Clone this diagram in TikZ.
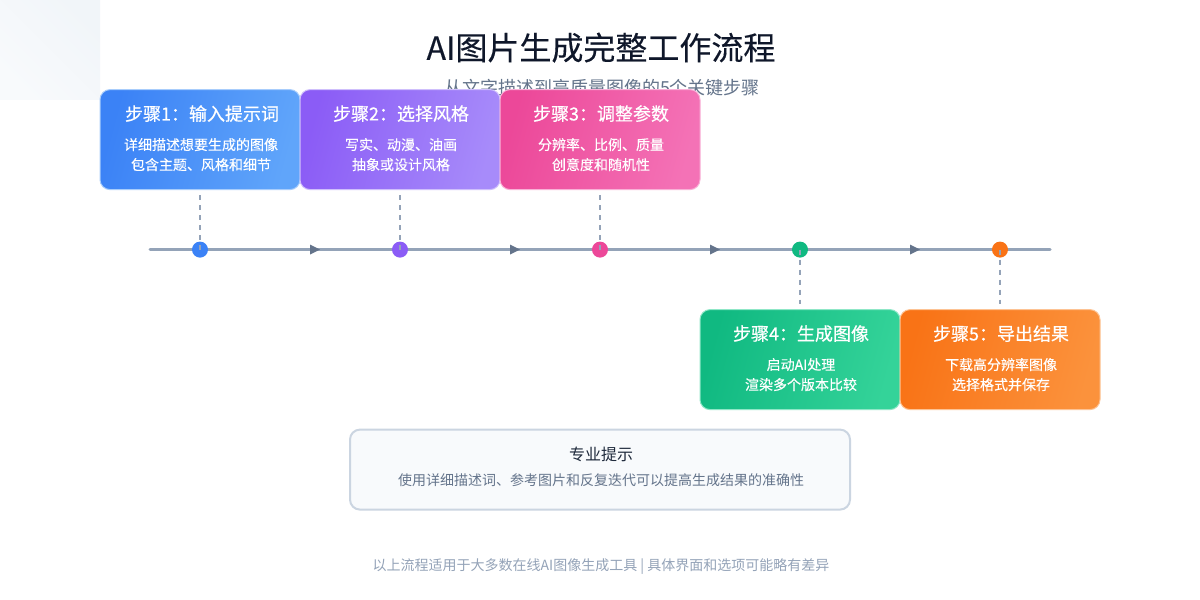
\documentclass[tikz,border=0pt]{standalone}
\usepackage{fontspec}
\setmainfont{Noto Sans CJK SC}
\newfontfamily\medfont[FakeBold=0.6]{Noto Sans CJK SC}
\newfontfamily\bodyfont[FakeBold=0.25]{Noto Sans CJK SC}
\usetikzlibrary{positioning}
\definecolor{inkdark}{HTML}{0F172A}
\definecolor{inkslate}{HTML}{1E293B}
\definecolor{inkgray}{HTML}{64748B}
\definecolor{inkmuted}{HTML}{94A3B8}
\definecolor{tipfill}{HTML}{F8FAFC}
\definecolor{tipedge}{HTML}{CBD5E1}
\definecolor{cornerfill}{HTML}{F1F5F9}
\definecolor{blueA}{HTML}{3B82F6}
\definecolor{blueB}{HTML}{60A5FA}
\definecolor{violetA}{HTML}{8B5CF6}
\definecolor{violetB}{HTML}{A78BFA}
\definecolor{pinkA}{HTML}{EC4899}
\definecolor{pinkB}{HTML}{F472B6}
\definecolor{greenA}{HTML}{10B981}
\definecolor{greenB}{HTML}{34D399}
\definecolor{orangeA}{HTML}{F97316}
\definecolor{orangeB}{HTML}{FB923C}
\tikzset{
  stepbox/.style n args={2}{minimum width=200pt,minimum height=100pt,rounded corners=10pt,inner sep=0pt,
    draw=#2!55!white,line width=1pt,shading=axis,left color=#1,right color=#2,shading angle=75},
  stephead/.style={text=white,font=\fontsize{18}{22}\selectfont\medfont,inner sep=0pt},
  stepbody/.style={text=white,font=\fontsize{14}{20}\selectfont\bodyfont,align=center,inner sep=0pt},
  stepdot/.style={circle,minimum size=16pt,inner sep=0pt,fill=#1},
  stepdash/.style={draw=inkmuted,line width=2pt,dash pattern=on 5pt off 5pt},
}
\begin{document}
\begin{tikzpicture}[x=1pt,y=-1pt]
\useasboundingbox (0,0.4) rectangle (1200,600.4);
\fill[white] (0,0) rectangle (1200,601);
\shade[left color=tipfill,right color=cornerfill,shading angle=135] (0,0) rectangle (100,100);
% heading
\node (title) at (601,48) [text=inkdark,font=\fontsize{32}{38}\selectfont\bodyfont,inner sep=0pt] {AI图片生成完整工作流程};
\node (subtitle) at (602,88) [text=inkgray,font=\fontsize{18}{22}\selectfont,inner sep=0pt] {从文字描述到高质量图像的5个关键步骤};
% timeline
\coordinate (linestart) at (150,250);
\coordinate (lineend) at (1050,250);
\draw[inkmuted,line width=3pt,line cap=round] (linestart) -- (lineend);
\foreach \ax in {310,510,710,910}
  \fill[inkgray] (\ax,245) -- (\ax+10,250) -- (\ax,255) -- cycle;
\node (dot1) at (200,250) [stepdot=blueA] {};
\node (dot2) at (400,250) [stepdot=violetA] {};
\node (dot3) at (600,250) [stepdot=pinkA] {};
\node (dot4) at (800,250) [stepdot=greenA] {};
\node (dot5) at (1000,250) [stepdot=orangeA] {};
% boxes
\node (box1) at (200,140) [stepbox={blueA}{blueB}] {};
\node (box2) at (400,140) [stepbox={violetA}{violetB}] {};
\node (box3) at (600,140) [stepbox={pinkA}{pinkB}] {};
\node (box4) at (800,360) [stepbox={greenA}{greenB}] {};
\node (box5) at (1000,360) [stepbox={orangeA}{orangeB}] {};
\node (head1) at (202,114) [stephead] {步骤1：输入提示词};
\node (head2) at (401,114) [stephead] {步骤2：选择风格};
\node (head3) at (601,114) [stephead] {步骤3：调整参数};
\node (head4) at (801,334) [stephead] {步骤4：生成图像};
\node (head5) at (1001,334) [stephead] {步骤5：导出结果};
\node (body1) at (201,155) [stepbody] {详细描述想要生成的图像\\包含主题、风格和细节};
\node (body2) at (401,155) [stepbody] {写实、动漫、油画\\抽象或设计风格};
\node (body3) at (601,155) [stepbody] {分辨率、比例、质量\\创意度和随机性};
\node (body4) at (801,375) [stepbody] {启动AI处理\\渲染多个版本比较};
\node (body5) at (1001,375) [stepbody] {下载高分辨率图像\\选择格式并保存};
% dashed links
\draw[stepdash,shorten <=5pt] (box1.south) -- (dot1.center);
\draw[stepdash,shorten <=5pt] (box2.south) -- (dot2.center);
\draw[stepdash,shorten <=5pt] (box3.south) -- (dot3.center);
\draw[stepdash,shorten >=5pt] (dot4.center) -- (box4.north);
\draw[stepdash,shorten >=5pt] (dot5.center) -- (box5.north);
% tip
\node (tip) at (600,470) [minimum width=500pt,minimum height=80pt,rounded corners=10pt,fill=tipfill,draw=tipedge,line width=2pt] {};
\node (tiphead) at (601,455) [text=inkslate,font=\fontsize{16}{20}\selectfont,inner sep=0pt] {专业提示};
\node (tipbody) at (601,481) [text=inkgray,font=\fontsize{14}{18}\selectfont,inner sep=0pt] {使用详细描述词、参考图片和反复迭代可以提高生成结果的准确性};
\node (footnote) at (601,567) [text=inkmuted,font=\fontsize{14}{18}\selectfont,inner sep=0pt] {以上流程适用于大多数在线AI图像生成工具 | 具体界面和选项可能略有差异};
\end{tikzpicture}
\end{document}
